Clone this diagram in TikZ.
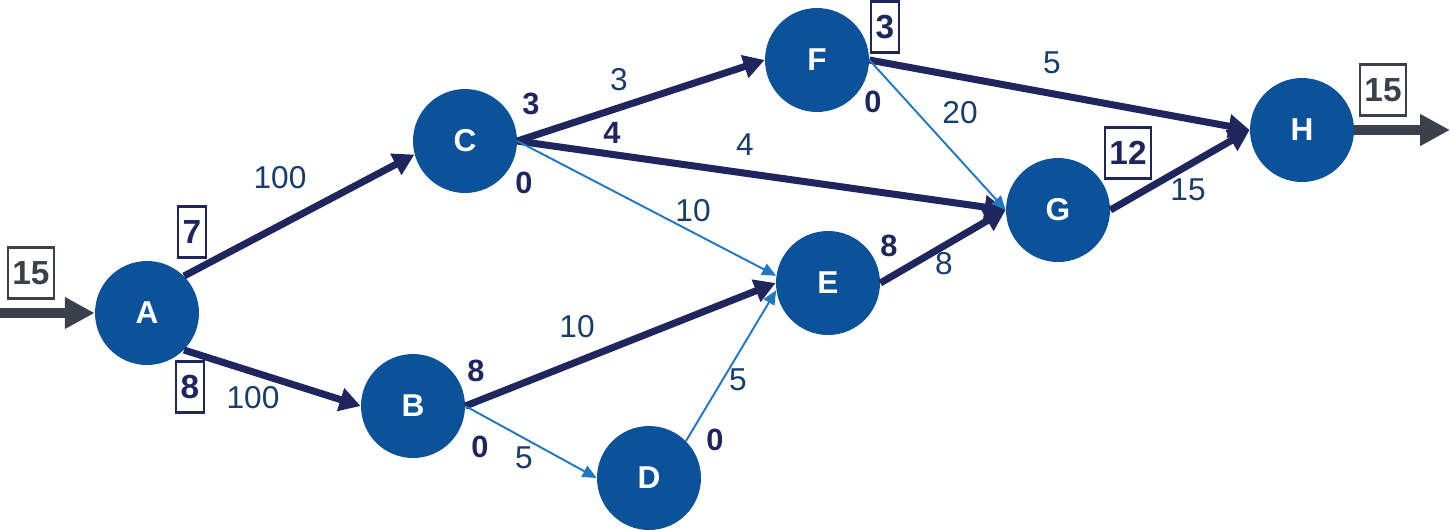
\documentclass[tikz,border=0pt]{standalone}
\usepackage{fontspec}
\setmainfont{Liberation Sans}
\usetikzlibrary{arrows.meta}
\definecolor{nodeblue}{RGB}{11,82,155}
\definecolor{navy}{RGB}{31,38,94}
\definecolor{thinblue}{RGB}{33,120,190}
\definecolor{labelblue}{RGB}{24,60,107}
\definecolor{darkgray}{RGB}{59,64,75}
\tikzset{
  vertex/.style={circle,fill=nodeblue,minimum size=2.08cm,inner sep=0pt,text=white,font=\fontsize{18}{18}\selectfont\bfseries},
  heavy/.style={draw=navy,line width=4pt,-{Triangle[length=12pt,width=13pt]}},
  light/.style={draw=thinblue,line width=1.1pt,-{Triangle[length=8pt,width=7pt]}},
  io/.style={draw=darkgray,line width=5.5pt,-{Triangle[length=17pt,width=17pt]}},
  elabel/.style={text=labelblue,font=\fontsize{18}{18}\selectfont},
  blabel/.style={text=navy,font=\fontsize{17.5}{17.5}\selectfont\bfseries},
  vbox/.style={draw=navy,text=navy,line width=1.3pt,minimum height=1.02cm,inner xsep=2.5pt,font=\fontsize{19}{19}\selectfont\bfseries},
  gbox/.style={vbox,draw=darkgray,text=darkgray}
}
\begin{document}
\begin{tikzpicture}[x=0.02cm,y=-0.02cm]
\useasboundingbox (0,0) rectangle (1450,529);
% nodes
\node[vertex] (A) at (147,313) {A};
\node[vertex] (B) at (413,406) {B};
\node[vertex] (C) at (465,141) {C};
\node[vertex] (D) at (649,478) {D};
\node[vertex] (E) at (828,283) {E};
\node[vertex] (F) at (817,60) {F};
\node[vertex] (G) at (1058,210) {G};
\node[vertex] (H) at (1302,130) {H};
\coordinate (in) at (0,313);
\coordinate (out) at (1450,130);
% edges
\draw[io] (in) -- (A.west);
\draw[io] (H.east) -- (out);
\draw[heavy] (A.45) -- (C.195);
\draw[heavy] (A.-45) -- (B.west);
\draw[heavy] (C.east) -- (F.west);
\draw[heavy] (C.east) -- (G.west);
\draw[light] (C.east) -- (E.172);
\draw[heavy] (B.east) -- (E.west);
\draw[light] (B.east) -- (D.west);
\draw[light] (D.45) -- (E.188);
\draw[heavy] (E.east) -- (G.west);
\draw[heavy] (F.east) -- (H.west);
\draw[light] (F.east) -- (G.west);
\draw[heavy] (G.east) -- (H.west);
% boxes
\node[gbox] (b15in) at (31,273) {15};
\node[vbox] (b7) at (192,232) {7};
\node[vbox] (b8) at (190,387) {8};
\node[vbox] (b3) at (885,27) {3};
\node[vbox] (b12) at (1128,153) {12};
\node[gbox] (b15out) at (1383,90) {15};
% edge labels
\node[elabel] (l1) at (280,178) {100};
\node[elabel] (l2) at (253,398) {100};
\node[elabel] (l3) at (619,80) {3};
\node[elabel] (l4) at (745,145) {4};
\node[elabel] (l5) at (693,211) {10};
\node[elabel] (l6) at (1052,63) {5};
\node[elabel] (l7) at (960,113) {20};
\node[elabel] (l8) at (1188,190) {15};
\node[elabel] (l9) at (944,264) {8};
\node[elabel] (l10) at (577,327) {10};
\node[elabel] (l11) at (524,458) {5};
\node[elabel] (l12) at (738,380) {5};
% bold labels
\node[blabel] (c3) at (531,104) {3};
\node[blabel] (c0) at (524,183) {0};
\node[blabel] (c4) at (612,133) {4};
\node[blabel] (f0) at (873,102) {0};
\node[blabel] (e8) at (889,246) {8};
\node[blabel] (b8l) at (476,371) {8};
\node[blabel] (b0) at (480,447) {0};
\node[blabel] (d0) at (715,440) {0};
\end{tikzpicture}
\end{document}
